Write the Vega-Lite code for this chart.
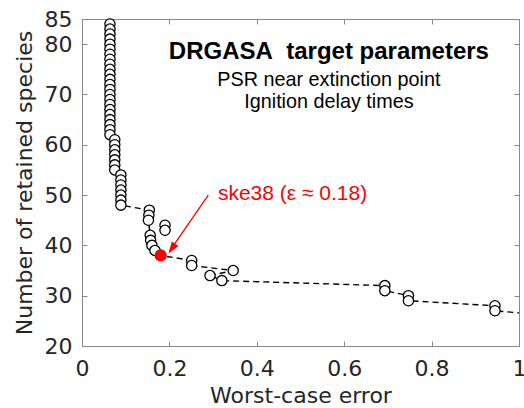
{
  "$schema": "https://vega.github.io/schema/vega-lite/v6.json",
  "width": 437,
  "height": 327,
  "autosize": {"type": "none"},
  "padding": {"left": 82, "top": 19, "right": 5, "bottom": 62},
  "config": {"view": {"stroke": null}, "font": "DejaVu Sans"},
  "datasets": {
    "pts": [
      {"err":0.064,"n":84},{"err":0.064,"n":83},{"err":0.064,"n":82},{"err":0.064,"n":81},{"err":0.064,"n":80},{"err":0.064,"n":79},{"err":0.064,"n":78},{"err":0.064,"n":77},{"err":0.064,"n":76},{"err":0.064,"n":75},{"err":0.064,"n":74},{"err":0.064,"n":73},{"err":0.064,"n":72},{"err":0.064,"n":71},{"err":0.064,"n":70},{"err":0.064,"n":69},{"err":0.064,"n":68},{"err":0.064,"n":67},{"err":0.064,"n":66},{"err":0.064,"n":65},{"err":0.064,"n":64},{"err":0.064,"n":63},{"err":0.064,"n":62},
      {"err":0.075,"n":61},{"err":0.075,"n":60},{"err":0.075,"n":59},{"err":0.075,"n":58},{"err":0.075,"n":57},{"err":0.075,"n":56},{"err":0.075,"n":55},
      {"err":0.089,"n":54},{"err":0.089,"n":53},{"err":0.089,"n":52},{"err":0.089,"n":51},{"err":0.089,"n":50},{"err":0.089,"n":49},{"err":0.089,"n":48},
      {"err":0.154,"n":47},{"err":0.153,"n":46},{"err":0.152,"n":45},
      {"err":0.19,"n":44},{"err":0.19,"n":43},
      {"err":0.156,"n":42},{"err":0.157,"n":41},{"err":0.16,"n":40},{"err":0.167,"n":39},
      {"err":0.251,"n":37},{"err":0.251,"n":36},
      {"err":0.346,"n":35},{"err":0.293,"n":34},{"err":0.32,"n":33},
      {"err":0.693,"n":32},{"err":0.693,"n":31},
      {"err":0.747,"n":30},{"err":0.747,"n":29},
      {"err":0.945,"n":28},{"err":0.945,"n":27}
    ],
    "path": [
      {"err":0.064,"n":84},{"err":0.064,"n":62},{"err":0.075,"n":61},{"err":0.075,"n":55},{"err":0.089,"n":54},{"err":0.089,"n":48},
      {"err":0.154,"n":47},{"err":0.153,"n":46},{"err":0.152,"n":45},
      {"err":0.156,"n":42},{"err":0.157,"n":41},{"err":0.16,"n":40},{"err":0.167,"n":39},{"err":0.18,"n":38},
      {"err":0.251,"n":37},{"err":0.251,"n":36},{"err":0.346,"n":35},{"err":0.293,"n":34},{"err":0.32,"n":33},
      {"err":0.693,"n":32},{"err":0.693,"n":31},{"err":0.747,"n":30},{"err":0.747,"n":29},{"err":0.945,"n":28},{"err":0.945,"n":27},
      {"err":1.08,"n":26}
    ],
    "red": [{"err":0.18,"n":38}],
    "arrow": [{"err":0.289,"n":50.0,"k":1},{"err":0.2,"n":38.8,"k":2}],
    "tip": [{"err":0.198,"n":38.4}],
    "title": [{"err":0.565,"n":78.5,"txt":"DRGASA\u00a0 target parameters"}],
    "sub": [{"err":0.565,"n":72.9,"txt":"PSR near extinction point"},{"err":0.565,"n":68.6,"txt":"Ignition delay times"}],
    "note": [{"err":0.311,"n":50.2,"txt":"ske38 (ε ≈ 0.18)"}]
  },
  "layer": [
    {
      "data": {"name": "path"},
      "mark": {"type": "line", "color": "black", "strokeDash": [6, 4], "strokeWidth": 1.4, "clip": true},
      "encoding": {
        "x": {"field": "err", "type": "quantitative", "scale": {"domain": [0, 1], "nice": false, "zero": false},
          "axis": {"orient": "bottom", "title": "Worst-case error", "values": [0, 0.2, 0.4, 0.6, 0.8, 1], "format": "~g", "grid": false,
            "tickSize": -5, "labelPadding": 17, "titlePadding": 6, "domainColor": "#888888", "tickColor": "#888888",
            "labelColor": "#262626", "titleColor": "#262626", "labelFontSize": 22, "titleFontSize": 22, "titleFontWeight": "normal", "labelFlush": false}},
        "y": {"field": "n", "type": "quantitative", "scale": {"domain": [20, 85], "nice": false, "zero": false},
          "axis": {"orient": "left", "title": "Number of retained species", "values": [20, 30, 40, 50, 60, 70, 80, 85], "grid": false,
            "tickSize": -5, "labelPadding": 15, "titlePadding": 8, "domainColor": "#888888", "tickColor": "#888888",
            "labelColor": "#262626", "titleColor": "#262626", "labelFontSize": 22, "titleFontSize": 22, "titleFontWeight": "normal", "labelFlush": false}},
        "order": {"field": "n", "sort": "descending"}
      }
    },
    {
      "data": {"name": "pts"},
      "mark": {"type": "point", "shape": "circle", "filled": true, "fill": "white", "stroke": "black", "strokeWidth": 1.3, "size": 105, "opacity": 1},
      "encoding": {
        "x": {"field": "err", "type": "quantitative",
          "axis": {"orient": "top", "title": null, "labels": false, "values": [0, 0.2, 0.4, 0.6, 0.8, 1], "grid": false, "tickSize": -5, "domainColor": "#888888", "tickColor": "#888888"}},
        "y": {"field": "n", "type": "quantitative",
          "axis": {"orient": "right", "title": null, "labels": false, "values": [20, 30, 40, 50, 60, 70, 80], "grid": false, "tickSize": -5, "domainColor": "#888888", "tickColor": "#888888"}}
      }
    },
    {
      "data": {"name": "red"},
      "mark": {"type": "point", "shape": "circle", "filled": true, "fill": "#ff0000", "stroke": "#ff0000", "size": 105, "opacity": 1},
      "encoding": {"x": {"field": "err", "type": "quantitative", "axis": null}, "y": {"field": "n", "type": "quantitative", "axis": null}}
    },
    {
      "data": {"name": "arrow"},
      "mark": {"type": "line", "color": "#ff0000", "strokeWidth": 1.3},
      "encoding": {"x": {"field": "err", "type": "quantitative", "axis": null}, "y": {"field": "n", "type": "quantitative", "axis": null}, "order": {"field": "k"}}
    },
    {
      "data": {"name": "tip"},
      "mark": {"type": "point", "shape": "M0,0L-0.45,1.3L0.45,1.3Z", "angle": 214.5, "filled": true, "color": "#ff0000", "size": 324, "opacity": 1},
      "encoding": {"x": {"field": "err", "type": "quantitative", "axis": null}, "y": {"field": "n", "type": "quantitative", "axis": null}}
    },
    {
      "data": {"name": "title"},
      "mark": {"type": "text", "font": "Liberation Sans", "fontWeight": "bold", "fontSize": 24, "color": "black", "align": "center", "baseline": "middle"},
      "encoding": {"x": {"field": "err", "type": "quantitative", "axis": null}, "y": {"field": "n", "type": "quantitative", "axis": null}, "text": {"field": "txt"}}
    },
    {
      "data": {"name": "sub"},
      "mark": {"type": "text", "font": "Liberation Sans", "fontSize": 19.8, "color": "black", "align": "center", "baseline": "middle"},
      "encoding": {"x": {"field": "err", "type": "quantitative", "axis": null}, "y": {"field": "n", "type": "quantitative", "axis": null}, "text": {"field": "txt"}}
    },
    {
      "data": {"name": "note"},
      "mark": {"type": "text", "font": "Liberation Sans", "fontSize": 21, "color": "#ff0000", "align": "left", "baseline": "middle"},
      "encoding": {"x": {"field": "err", "type": "quantitative", "axis": null}, "y": {"field": "n", "type": "quantitative", "axis": null}, "text": {"field": "txt"}}
    }
  ],
  "resolve": {"axis": {"x": "independent", "y": "independent"}}
}
